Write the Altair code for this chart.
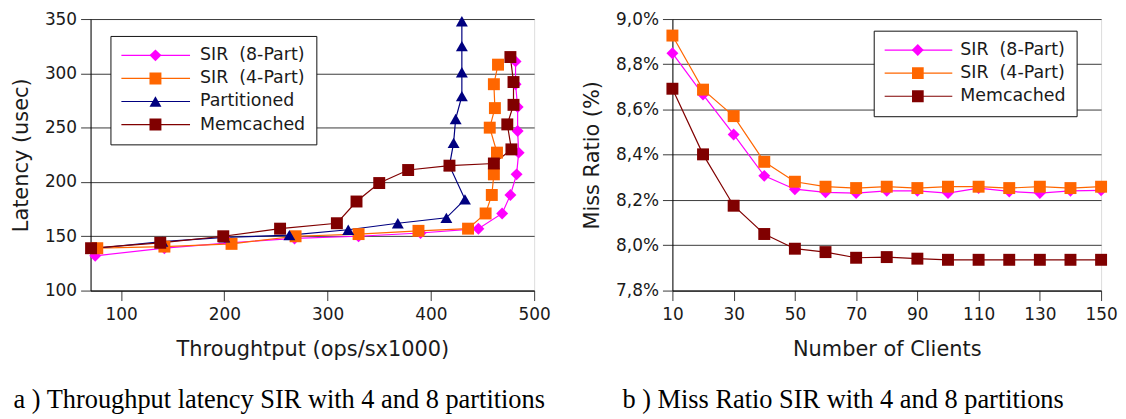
import altair as alt
import pandas as pd

FONT = "DejaVu Sans"
CAP_FONT = "Liberation Serif"

S8 = "SIR\u00a0 (8-Part)"
S4 = "SIR\u00a0 (4-Part)"
PART = "Partitioned"
MEM = "Memcached"

# ---------------- left panel: throughput vs latency ----------------
left_series = [S8, S4, PART, MEM]
left_colors = ["#ff00ff", "#ff6600", "#000080", "#800000"]
left_shapes = ["diamond", "square", "triangle-up", "square"]

tp_sir8 = [75, 142, 205, 268, 330, 390, 446, 469, 477, 483, 485, 484, 484, 482, 482]
lat_sir8 = [132, 139, 144, 148, 150, 153, 157, 171, 188, 207, 227, 247, 269, 290, 311]
tp_sir4 = [77, 142, 207, 269, 330, 388, 436, 453, 459, 461, 464, 457, 462, 461, 465]
lat_sir4 = [139, 140.5, 143, 150, 152, 155, 157, 171, 188, 207, 227, 250, 268, 290, 308]
tp_part = [71, 140, 200, 263, 320, 368, 415, 433, 418, 422, 424, 430, 430, 430, 430]
lat_part = [138.5, 145, 149, 151, 156, 162, 167, 184, 215, 236, 258, 279, 301, 325, 348]
tp_mem = [71, 138, 199, 254, 309, 328, 350, 378, 418, 461, 478, 474, 480, 480, 477]
lat_mem = [139, 144, 150, 157, 162, 182, 199, 211, 215, 217, 230, 253, 271, 292, 315]

x_ticks_left = [100, 200, 300, 400, 500]
y_ticks_left = [100, 150, 200, 250, 300, 350]

# ---------------- right panel: miss ratio ----------------
right_series = [S8, S4, MEM]
right_colors = ["#ff00ff", "#ff6600", "#800000"]
right_shapes = ["diamond", "square", "square"]

clients = [10, 20, 30, 40, 50, 60, 70, 80, 90, 100, 110, 120, 130, 140, 150]
miss_sir8 = [8.849, 8.666, 8.49, 8.307, 8.248, 8.234, 8.231, 8.241, 8.241, 8.231, 8.253, 8.238, 8.231, 8.241, 8.243]
miss_sir4 = [8.927, 8.688, 8.571, 8.369, 8.281, 8.259, 8.253, 8.259, 8.253, 8.259, 8.259, 8.253, 8.259, 8.253, 8.259]
miss_mem = [8.692, 8.402, 8.175, 8.05, 7.985, 7.97, 7.945, 7.948, 7.941, 7.936, 7.936, 7.936, 7.936, 7.936, 7.936]

y_ticks_right = [7.8, 8.0, 8.2, 8.4, 8.6, 8.8, 9.0]


def table(series_names, xs, ys):
    rows = []
    for name, xv, yv in zip(series_names, xs, ys):
        for i, (a, b) in enumerate(zip(xv, yv)):
            rows.append({"series": name, "marker": name, "x": a, "y": b, "idx": i})
    return pd.DataFrame(rows)


df_left = table(left_series, [tp_sir8, tp_sir4, tp_part, tp_mem],
                [lat_sir8, lat_sir4, lat_part, lat_mem])
df_right = table(right_series, [clients] * 3, [miss_sir8, miss_sir4, miss_mem])

GRID = "#3a3a3a"
TEXT = "#1a1a1a"
LEG_FS = 17.5
ROWPAD = 5.2


def line_legend(lx, ly, sym_off, lab_off):
    return alt.Legend(
        title=None, orient="none", legendX=lx, legendY=ly,
        symbolType="stroke", symbolSize=4900, symbolStrokeWidth=1.2,
        symbolOffset=sym_off, labelOffset=lab_off, clipHeight=17,
        labelFont=FONT, labelFontSize=LEG_FS, labelColor=TEXT,
        padding=11, rowPadding=ROWPAD,
        strokeColor="#111111", fillColor="white", zindex=1,
    )


def point_legend(lx, ly, sym_off, lab_off):
    # markers drawn on top of the line legend; its own labels are left empty
    return alt.Legend(
        title=None, orient="none", legendX=lx + 27.5, legendY=ly,
        symbolSize=144, symbolStrokeWidth=0,
        symbolOffset=sym_off, labelOffset=lab_off, clipHeight=17,
        labelFont=FONT, labelFontSize=LEG_FS, labelExpr="''",
        padding=11, rowPadding=ROWPAD, zindex=2,
    )


def panel(df, series, colors, shapes, xenc, yenc, lx, ly, sym_off, lab_off,
          width, caption, cap_dx):
    cscale = alt.Scale(domain=series, range=colors)
    sscale = alt.Scale(domain=series, range=shapes)
    base = alt.Chart(df)
    lines = base.mark_line(strokeWidth=1.2).encode(
        x=xenc, y=yenc,
        stroke=alt.Stroke("series:N", scale=cscale, sort=series,
                          legend=line_legend(lx, ly, sym_off, lab_off)),
        order=alt.Order("idx:Q"),
    )
    pl = point_legend(lx, ly, sym_off, lab_off)
    points = base.mark_point(filled=True, size=144, opacity=1, strokeWidth=0).encode(
        x=alt.X("x:Q"), y=alt.Y("y:Q"),
        fill=alt.Fill("marker:N", scale=cscale, sort=series, legend=pl),
        shape=alt.Shape("marker:N", scale=sscale, sort=series, legend=pl),
    )
    return alt.layer(lines, points).properties(
        width=width, height=273,
        title=alt.TitleParams(
            caption, orient="bottom", anchor="start", frame="bounds",
            font=CAP_FONT, fontSize=26.5, fontWeight="normal", color="black",
            offset=28, dx=cap_dx,
        ),
    ).resolve_scale(stroke="independent", fill="independent", shape="independent")


axis_common = dict(
    labelFont=FONT, labelFontSize=17, labelColor=TEXT,
    titleFont=FONT, titleFontSize=21, titleFontWeight="normal", titleColor=TEXT,
    tickSize=10, tickColor=GRID, domainColor="#000000",
)

x_left = alt.X(
    "x:Q", title="Throughtput (ops/sx1000)",
    scale=alt.Scale(domain=[70.5, 500], nice=False, zero=False),
    axis=alt.Axis(values=x_ticks_left, grid=False, labelPadding=6, titlePadding=16,
                  labelFlush=False, labelOverlap=False, **axis_common),
)
y_left = alt.Y(
    "y:Q", title="Latency (usec)",
    scale=alt.Scale(domain=[100, 350], nice=False, zero=False),
    axis=alt.Axis(values=y_ticks_left, grid=True, gridColor=GRID, gridWidth=1,
                  labelPadding=4, titlePadding=13, **axis_common),
)

x_right = alt.X(
    "x:Q", title="Number of Clients",
    scale=alt.Scale(domain=[10, 150], nice=False, zero=False),
    axis=alt.Axis(values=clients, grid=False, labelPadding=6, titlePadding=16,
                  labelFlush=False, labelOverlap=False,
                  labelExpr="datum.value % 20 == 10 ? datum.label : ''",
                  **axis_common),
)
y_right = alt.Y(
    "y:Q", title="Miss Ratio (%)",
    scale=alt.Scale(domain=[7.8, 9.0], nice=False, zero=False),
    axis=alt.Axis(values=y_ticks_right, grid=True, gridColor=GRID, gridWidth=1,
                  labelPadding=4, titlePadding=13,
                  labelExpr="replace(format(datum.value, '.1f'), '.', ',') + '%'",
                  **axis_common),
)

left = panel(df_left, left_series, left_colors, left_shapes, x_left, y_left,
             20, 17, -2, 9, 446,
             "a ) Throughput latency SIR with 4 and 8 partitions", 3)
right = panel(df_right, right_series, right_colors, right_shapes, x_right, y_right,
              202.4, 11.7, -3, 7, 431,
              "b ) Miss Ratio SIR with 4 and 8 partitions", 41)

chart = alt.hconcat(left, right, spacing=30).properties(
    padding={"left": 2, "top": 0, "right": 0, "bottom": 0}
).configure_view(stroke=None).configure(font=FONT)

chart.save("out.html", embed_options={"renderer": "svg", "actions": False})
